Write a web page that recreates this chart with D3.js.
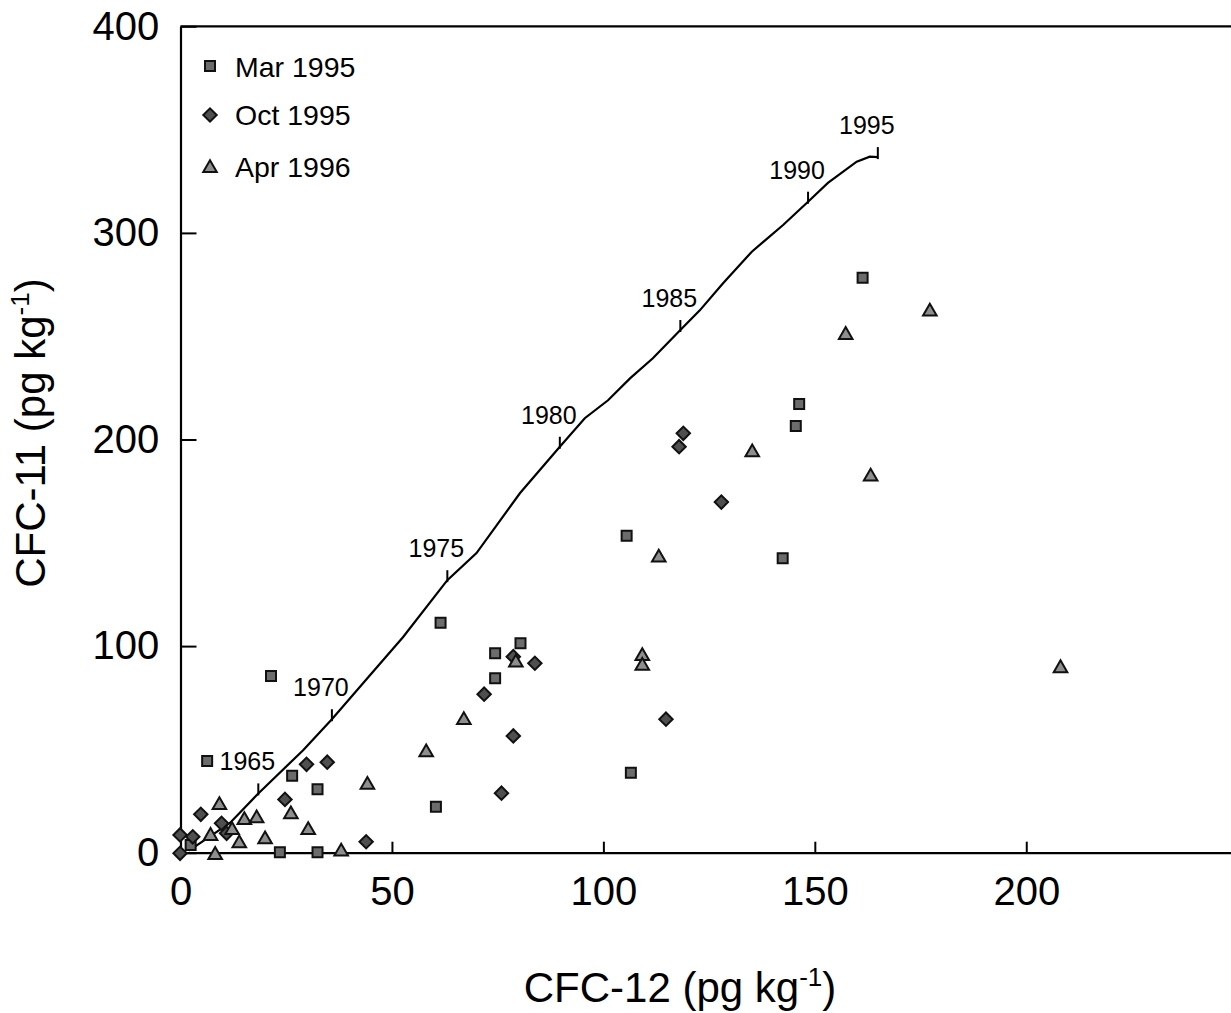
<!DOCTYPE html>
<html>
<head>
<meta charset="utf-8">
<script src="https://cdn.jsdelivr.net/npm/d3@7"></script>
<style>
  body { margin: 0; background: #fff; }
  text { font-family: "Liberation Sans", Arial, sans-serif; fill: #000; }
</style>
</head>
<body>
<script>
// Mar 1995 samples (CFC-12, CFC-11)
const marX = [21.4, 6.3, 26.4, 32.4, 23.5, 32.4, 2.4, 61.5, 80.4, 74.4, 74.4, 60.4, 106.5, 105.5, 146.3, 145.5, 142.4, 161.3];
const marY = [85.5, 44.4, 37.3, 30.7, 0.2, 0.2, 3.7, 111.3, 101.4, 96.5, 84.4, 22.3, 38.7, 153.4, 217.2, 206.5, 142.5, 278.3];

// Oct 1995 samples
const octX = [-0.1, -0.1, 2.9, 4.8, 9.7, 10.9, 24.7, 29.8, 34.7, 43.9, 71.8, 78.7, 83.8, 78.7, 75.9, 114.8, 118.9, 117.9, 127.9];
const octY = [8.6, -0.3, 7.7, 18.6, 14.2, 9.4, 25.8, 42.8, 43.8, 5.3, 76.7, 94.9, 91.7, 56.5, 28.8, 64.6, 203.0, 196.5, 169.7];

// Apr 1996 samples
const aprX = [12.2, 9.2, 7.1, 8.2, 15.1, 18.0, 13.9, 20.0, 26.1, 30.2, 38.0, 44.2, 58.1, 67.0, 79.3, 109.2, 109.2, 113.1, 135.2, 157.3, 177.2, 163.2, 208.1];
const aprY = [11.0, 23.1, 8.1, -1.1, 15.8, 16.6, 4.5, 6.5, 18.6, 11.0, 0.5, 32.8, 48.6, 64.2, 92.0, 95.2, 90.4, 142.8, 193.8, 250.6, 261.9, 182.0, 89.3];

// atmospheric history curve
const curveX = [2, 11.7, 18.4, 29.0, 35.8, 44.8, 52.6, 63.1, 70.0, 80.3, 89.7, 95.6, 101.1, 106.3, 111.7, 118.2, 122.8, 128.3, 135.1, 142.5, 148.4, 153.1, 159.9, 163.0, 164.9];
const curveY = [1, 14.4, 28.7, 49.6, 64.6, 85.9, 104.3, 131.9, 145.0, 174.1, 196.5, 210.3, 219.0, 229.6, 239.3, 253.0, 262.5, 275.6, 290.9, 303.8, 315.1, 324.2, 334.5, 336.9, 336.7];

// year marks on the curve
const years = ['1965', '1970', '1975', '1980', '1985', '1990', '1995'];
const yearX = [18.4, 35.8, 63.1, 89.7, 118.2, 148.4, 164.9];
const yearY = [28.7, 64.6, 131.9, 196.5, 253.0, 315.1, 336.7];

const xTicks = [0, 50, 100, 150, 200];
const yTicks = [0, 100, 200, 300, 400];

const seriesNames = ['Mar 1995', 'Oct 1995', 'Apr 1996'];

const width = 1231, height = 1013;

const svg = d3.select('body').append('svg')
  .attr('width', width)
  .attr('height', height);

const x = d3.scaleLinear().domain([0, 250]).range([180.5, 1237.7]);
const y = d3.scaleLinear().domain([0, 400]).range([852.7, 26.3]);

// marker styles
const styles = [
  { sym: d3.symbol().type(d3.symbolSquare).size(100), fill: '#6c6c6c', rot: 0 },
  { sym: d3.symbol().type(d3.symbolSquare).size(90), fill: '#4f4f4f', rot: 45 },
  { sym: d3.symbol().type(d3.symbolTriangle).size(80), fill: '#8e8e8e', rot: 0 }
];

// axes
const xAxis = d3.axisBottom(x).tickValues(xTicks).tickSizeInner(-11).tickSizeOuter(0).tickPadding(22);
const yAxis = d3.axisLeft(y).tickValues(yTicks).tickSizeInner(-16).tickSizeOuter(0).tickPadding(22);

const gx = svg.append('g')
  .attr('transform', `translate(0, ${y(0)})`)
  .call(xAxis);
const gy = svg.append('g')
  .attr('transform', `translate(${x(0)}, 0)`)
  .call(yAxis);

[gx, gy].forEach(g => {
  g.select('.domain').attr('stroke', '#000').attr('stroke-width', 2.2);
  g.selectAll('.tick line').attr('stroke', '#000').attr('stroke-width', 2);
  g.selectAll('.tick text').attr('font-size', 40).attr('font-family', '"Liberation Sans", Arial, sans-serif').attr('fill', '#000');
});
gx.selectAll('.tick text').attr('dy', '0.75em');
gy.selectAll('.tick text').attr('dx', '0.02em');

// top frame line
svg.append('line')
  .attr('x1', x(0)).attr('x2', width)
  .attr('y1', y(400)).attr('y2', y(400))
  .attr('stroke', '#000').attr('stroke-width', 2.2);

// history curve
const line = d3.line().x(d => x(d[0])).y(d => y(d[1]));
svg.append('path')
  .datum(d3.zip(curveX, curveY))
  .attr('d', line)
  .attr('fill', 'none')
  .attr('stroke', '#000')
  .attr('stroke-width', 2.2);

// year ticks and labels
years.forEach((yr, i) => {
  const px = x(yearX[i]), py = y(yearY[i]);
  svg.append('line')
    .attr('x1', px).attr('x2', px)
    .attr('y1', py + 2).attr('y2', py - 10)
    .attr('stroke', '#000').attr('stroke-width', 2);
  svg.append('text')
    .attr('x', px - 11)
    .attr('y', py - 23)
    .attr('text-anchor', 'middle')
    .attr('font-size', 25)
    .text(yr);
});

// points
const series = [[marX, marY], [octX, octY], [aprX, aprY]];
series.forEach((s, i) => {
  const st = styles[i];
  svg.append('g').selectAll('path')
    .data(d3.zip(s[0], s[1]))
    .enter()
    .append('path')
    .attr('d', st.sym())
    .attr('transform', d => `translate(${x(d[0])}, ${y(d[1])}) rotate(${st.rot})`)
    .attr('fill', st.fill)
    .attr('stroke', '#111')
    .attr('stroke-width', 2);
});

// legend
const legend = svg.append('g');
seriesNames.forEach((name, i) => {
  const st = styles[i];
  const cy = [66, 115, 168][i];
  legend.append('path')
    .attr('d', st.sym())
    .attr('transform', `translate(210, ${cy}) rotate(${st.rot})`)
    .attr('fill', st.fill)
    .attr('stroke', '#111')
    .attr('stroke-width', 2);
  legend.append('text')
    .attr('x', 235)
    .attr('y', [77, 125, 177][i])
    .attr('font-size', 28.5)
    .text(name);
});

// axis titles
const xt = svg.append('text')
  .attr('x', 680)
  .attr('y', 1002)
  .attr('text-anchor', 'middle')
  .attr('font-size', 42);
xt.append('tspan').text('CFC-12 (pg kg');
xt.append('tspan').attr('font-size', 26).attr('dy', -16).text('-1');
xt.append('tspan').attr('dy', 16).text(')');

const yt = svg.append('text')
  .attr('transform', 'translate(45, 433) rotate(-90)')
  .attr('text-anchor', 'middle')
  .attr('font-size', 42);
yt.append('tspan').text('CFC-11 (pg kg');
yt.append('tspan').attr('font-size', 26).attr('dy', -16).text('-1');
yt.append('tspan').attr('dy', 16).text(')');
</script>
</body>
</html>
